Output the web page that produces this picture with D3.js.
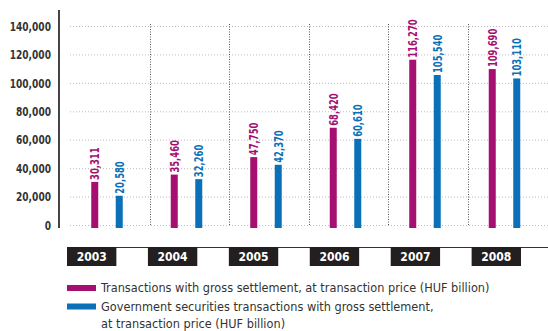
<!DOCTYPE html>
<html>
<head>
<meta charset="utf-8">
<script src="https://cdn.jsdelivr.net/npm/d3@7"></script>
<style>
  html, body { margin: 0; padding: 0; background: #fff; }
  svg { display: block; }
</style>
</head>
<body>
<svg id="chart" width="548" height="331"></svg>
<script>
// Gross settlement transactions by year (HUF billion)
const years = ["2003", "2004", "2005", "2006", "2007", "2008"];
const grossSettlement = [30311, 35460, 47750, 68420, 116270, 109690];
const govSecurities = [20580, 32260, 42370, 60610, 105540, 103110];
const yTicks = [0, 20000, 40000, 60000, 80000, 100000, 120000, 140000];
const seriesNames = [
  ["Transactions with gross settlement, at transaction price (HUF billion)"],
  ["Government securities transactions with gross settlement,", "at transaction price (HUF billion)"]
];
const colors = ["#a50f72", "#0a71b8"];

const svg = d3.select("#chart");
const font = '"DejaVu Sans Condensed", "DejaVu Sans", sans-serif';

const y = d3.scaleLinear().domain([0, 140000]).range([225, 26]);
const xGroup = d3.scaleBand().domain(years).range([71, 548]).padding(0);
const xYear = d3.scaleBand().domain(years).range([67, 521]).paddingInner(0.39).paddingOuter(0);

// horizontal dotted gridlines
svg.append("g").selectAll("line").data(yTicks).join("line")
  .attr("x1", 70).attr("x2", 548)
  .attr("y1", d => y(d) + 0.5).attr("y2", d => y(d) + 0.5)
  .attr("stroke", "#bdbdbd").attr("stroke-width", 1).attr("stroke-dasharray", "1,2");

// vertical dotted separators between years
svg.append("g").selectAll("line").data(years.slice(1)).join("line")
  .attr("x1", d => Math.round(xGroup(d)) - 0.5).attr("x2", d => Math.round(xGroup(d)) - 0.5)
  .attr("y1", 24).attr("y2", y(0))
  .attr("stroke", "#555").attr("stroke-width", 1).attr("stroke-dasharray", "1,1.5");

// y axis
const yAxis = d3.axisLeft(y).tickValues(yTicks).tickSize(0).tickPadding(0)
  .tickFormat(d3.format(","));
const gy = svg.append("g").attr("transform", "translate(51,0)").call(yAxis);
gy.select(".domain").remove();
gy.selectAll("text")
  .attr("font-family", font).attr("font-weight", "bold").attr("font-size", 12)
  .attr("fill", "#333").attr("dy", "0.35em")
  .attr("transform", "scale(0.84,1)");
svg.append("line").attr("x1", 59).attr("x2", 59).attr("y1", 10).attr("y2", 228)
  .attr("stroke", "#444").attr("stroke-width", 2);

// bars
const barW = 7;
const offsets = [-16, 8.5];
const series = [grossSettlement, govSecurities];
series.forEach((vals, si) => {
  const g = svg.append("g");
  const cx = (d, i) => xGroup(years[i]) + xGroup.bandwidth() / 2 + offsets[si];
  g.selectAll("rect").data(vals).join("rect")
    .attr("x", (d, i) => cx(d, i) - barW / 2)
    .attr("y", d => y(d))
    .attr("width", barW)
    .attr("height", d => y(0) - y(d) + 3)
    .attr("fill", colors[si]);
  g.selectAll("text").data(vals).join("text")
    .attr("transform", (d, i) => `translate(${cx(d, i) + 4.5},${y(d) - 2}) rotate(-90) scale(0.78,1)`)
    .attr("font-family", font).attr("font-weight", "bold").attr("font-size", 12)
    .attr("fill", colors[si])
    .text(d => d3.format(",")(d));
});

// year label row
svg.append("line").attr("x1", 67).attr("x2", 548).attr("y1", 247.5).attr("y2", 247.5)
  .attr("stroke", "#333").attr("stroke-width", 1);
const yr = svg.append("g").selectAll("g").data(years).join("g")
  .attr("transform", d => `translate(${xYear(d)},247)`);
yr.append("rect").attr("width", xYear.bandwidth()).attr("height", 19).attr("fill", "#231f20");
yr.append("text").attr("x", xYear.bandwidth() / 2).attr("y", 14)
  .attr("text-anchor", "middle").attr("font-family", font).attr("font-weight", "bold")
  .attr("font-size", 12).attr("fill", "#fff").text(d => d);

// legend
const legendY = [288, 306.5];
seriesNames.forEach((lines, i) => {
  svg.append("rect").attr("x", 67).attr("y", legendY[i] - 3).attr("width", 29).attr("height", 6)
    .attr("fill", colors[i]);
  lines.forEach((t, j) => {
    svg.append("text").attr("x", 101).attr("y", legendY[i] + j * 17).attr("dy", "0.35em")
      .attr("font-family", font).attr("font-size", 12.6).attr("fill", "#333").text(t);
  });
});
</script>
</body>
</html>
